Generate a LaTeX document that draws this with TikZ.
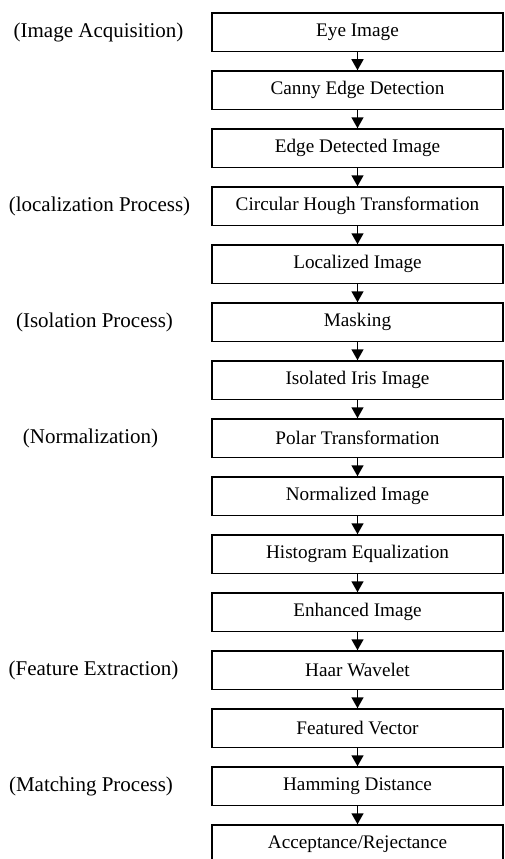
\documentclass[tikz,border=0pt]{standalone}
\usepackage{fontspec}
\setmainfont{Liberation Serif}
\usepackage{tikz}
\usetikzlibrary{arrows.meta, positioning}

\begin{document}
\begin{tikzpicture}[
        x=1pt, y=1pt,
        box/.style={rectangle, draw, line width=1.6pt, minimum height=38.5pt, minimum width=291pt, inner sep=0pt, font=\fontsize{19.2}{22}\selectfont},
        stage/.style={font=\fontsize{21}{24}\selectfont},
        arrow/.style={-{Triangle[width=12pt,length=11pt]}, line width=1.5pt}
    ]
        \useasboundingbox (0,0) rectangle (504,-859);
        \node[box] (eye) at (357.5,-32.3) {Eye Image};
        \node[box] (canny) at (357.5,-90.3) {Canny Edge Detection};
        \node[box] (edge) at (357.5,-148.3) {Edge Detected Image};
        \node[box] (hough) at (357.5,-206.3) {Circular Hough Transformation};
        \node[box] (local) at (357.5,-264.3) {Localized Image};
        \node[box] (mask) at (357.5,-322.3) {Masking};
        \node[box] (iris) at (357.5,-380.3) {Isolated Iris Image};
        \node[box] (polar) at (357.5,-438.3) {Polar Transformation};
        \node[box] (norm) at (357.5,-496.3) {Normalized Image};
        \node[box] (histo) at (357.5,-554.3) {Histogram Equalization};
        \node[box] (enh) at (357.5,-612.3) {Enhanced Image};
        \node[box] (haar) at (357.5,-670.3) {Haar Wavelet};
        \node[box] (feat) at (357.5,-728.3) {Featured Vector};
        \node[box] (hamm) at (357.5,-786.3) {Hamming Distance};
        \node[box] (acc) at (357.5,-844.3) {Acceptance/Rejectance};

        \node[stage] (acq) at (98.5,-32.3) {(Image Acquisition)};
        \node[stage] (loc) at (99.5,-206.3) {(localization Process)};
        \node[stage] (iso) at (94.5,-322.3) {(Isolation Process)};
        \node[stage] (nrm) at (90.5,-438.3) {(Normalization)};
        \node[stage] (fex) at (93.5,-670.3) {(Feature Extraction)};
        \node[stage] (mat) at (91,-786.3) {(Matching Process)};

        \draw[arrow] (eye) -- (canny);
        \draw[arrow] (canny) -- (edge);
        \draw[arrow] (edge) -- (hough);
        \draw[arrow] (hough) -- (local);
        \draw[arrow] (local) -- (mask);
        \draw[arrow] (mask) -- (iris);
        \draw[arrow] (iris) -- (polar);
        \draw[arrow] (polar) -- (norm);
        \draw[arrow] (norm) -- (histo);
        \draw[arrow] (histo) -- (enh);
        \draw[arrow] (enh) -- (haar);
        \draw[arrow] (haar) -- (feat);
        \draw[arrow] (feat) -- (hamm);
        \draw[arrow] (hamm) -- (acc);
    \end{tikzpicture}
\end{document}
